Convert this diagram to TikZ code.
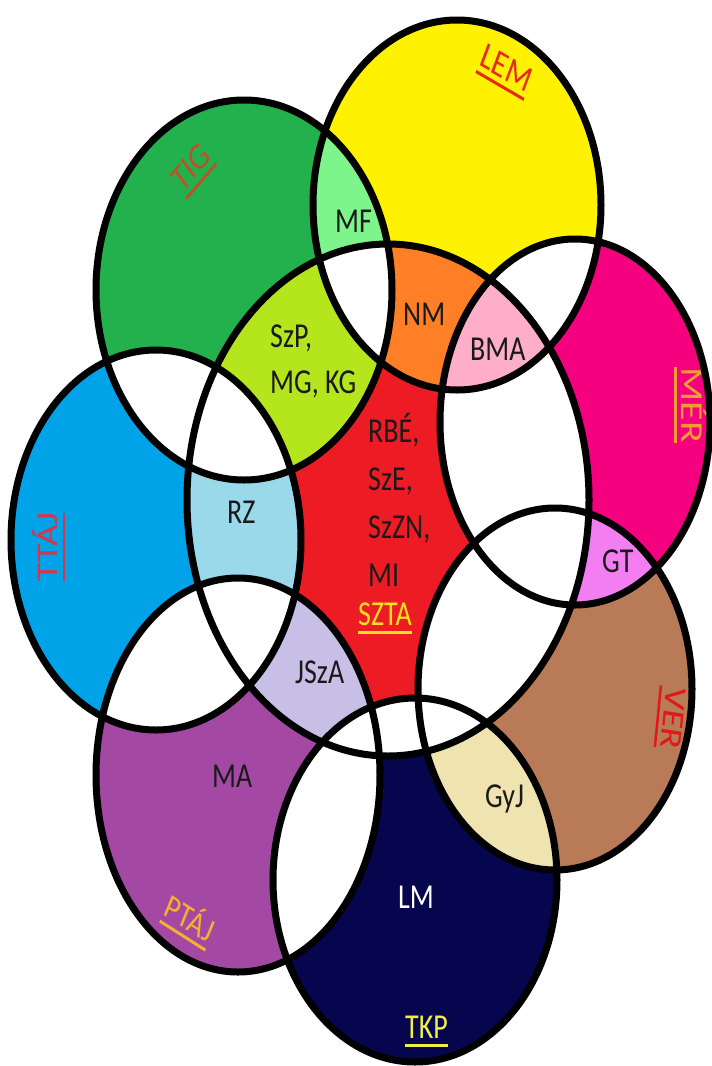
\documentclass[tikz,border=0pt]{standalone}
\usepackage{fontspec}
\setmainfont{Carlito}
\definecolor{cLEM}{HTML}{FFF200}
\definecolor{cTIG}{HTML}{22B14C}
\definecolor{cMER}{HTML}{F5007F}
\definecolor{cTTAJ}{HTML}{00A2E8}
\definecolor{cVER}{HTML}{B97A57}
\definecolor{cPTAJ}{HTML}{A349A4}
\definecolor{cTKP}{HTML}{06064F}
\definecolor{cSZTA}{HTML}{ED1C24}
\definecolor{cMF}{HTML}{7DF58A}
\definecolor{cLime}{HTML}{B5E61D}
\definecolor{cNM}{HTML}{FF7F27}
\definecolor{cBMA}{HTML}{FFAEC9}
\definecolor{cRZ}{HTML}{99D9EA}
\definecolor{cJSzA}{HTML}{C8BFE7}
\definecolor{cGT}{HTML}{F27EF2}
\definecolor{cGyJ}{HTML}{EFE4B0}
\definecolor{tBlack}{HTML}{1A1A1A}
\definecolor{tLEM}{HTML}{E8281E}
\definecolor{tTIG}{HTML}{C0502A}
\definecolor{tMER}{HTML}{F0A030}
\definecolor{tTTAJ}{HTML}{D8344A}
\definecolor{tVER}{HTML}{E01818}
\definecolor{tPTAJ}{HTML}{F5B030}
\definecolor{tTKP}{HTML}{F0F040}
\definecolor{tSZTA}{HTML}{FFE020}
\def\pLEM{(457,205) ellipse [x radius=144, y radius=185]}
\def\pTIG{(244,290) ellipse [x radius=148, y radius=190]}
\def\pMER{(575,422) ellipse [x radius=135, y radius=183]}
\def\pTTAJ{(156,540) ellipse [x radius=145, y radius=190]}
\def\pSZTA{(388,500) ellipse [x radius=201, y radius=256]}
\def\pVER{(555,689) ellipse [x radius=137, y radius=181]}
\def\pPTAJ{(238,775) ellipse [x radius=142, y radius=197]}
\def\pTKP{(415,880) ellipse [x radius=142, y radius=182]}
\newcommand\uline[1]{\leavevmode\vtop{\hbox{#1}\kern4.5pt\hrule height 2.5pt}}
\tikzset{
  outline/.style={draw=black, line width=7pt},
  lab/.style={transform shape, inner sep=0pt, font=\fontsize{28}{34}\selectfont, text=tBlack},
}
\newcommand\lbl[6]{%
  \begin{scope}[shift={(#1,#2)}, yscale=1.25]
    \node[lab, rotate=#3, #4] (#5) at (0,0) {#6};
  \end{scope}}
\begin{document}
\begin{tikzpicture}[x=1pt,y=-1pt]
\useasboundingbox (0,0) rectangle (712,1066);
\fill[white] (0,0) rectangle (712,1066);
% single sets
\fill[cLEM] \pLEM;
\fill[cTIG] \pTIG;
\fill[cMER] \pMER;
\fill[cTTAJ] \pTTAJ;
\fill[cSZTA] \pSZTA;
\fill[cVER] \pVER;
\fill[cPTAJ] \pPTAJ;
\fill[cTKP] \pTKP;
% coloured intersections
\begin{scope}\clip \pTIG; \fill[cMF] \pLEM; \fill[cLime] \pSZTA; \end{scope}
\begin{scope}\clip \pLEM; \fill[cNM] \pSZTA; \end{scope}
\begin{scope}\clip \pTTAJ; \fill[cRZ] \pSZTA; \end{scope}
\begin{scope}\clip \pPTAJ; \fill[cJSzA] \pSZTA; \end{scope}
\begin{scope}\clip \pMER; \fill[cGT] \pVER; \end{scope}
\begin{scope}\clip \pVER; \fill[cGyJ] \pTKP; \end{scope}
% white intersections
\begin{scope}\clip \pTIG; \fill[white] \pTTAJ; \end{scope}
\begin{scope}\clip \pTIG; \clip \pLEM; \fill[white] \pSZTA; \end{scope}
\begin{scope}\clip \pLEM; \fill[white] \pMER; \end{scope}
\begin{scope}\clip \pSZTA; \fill[white] \pMER; \fill[white] \pVER; \fill[white] \pTKP; \end{scope}
\begin{scope}\clip \pTTAJ; \fill[white] \pPTAJ; \end{scope}
\begin{scope}\clip \pPTAJ; \fill[white] \pTKP; \end{scope}
\begin{scope}\clip \pLEM; \clip \pSZTA; \fill[cBMA] \pMER; \end{scope}
% labels
\lbl{335}{232}{0}{anchor=base west}{mf}{MF}
\lbl{403}{325}{0}{anchor=base west}{nm}{NM}
\lbl{470}{360}{0}{anchor=base west}{bma}{BMA}
\lbl{270}{347}{0}{anchor=base west}{szp}{SzP,}
\lbl{270}{393}{0}{anchor=base west}{mgkg}{MG, KG}
\lbl{368}{442}{0}{anchor=base west}{rbe}{RBÉ,}
\lbl{368}{490}{0}{anchor=base west}{sze}{SzE,}
\lbl{368}{538}{0}{anchor=base west}{szzn}{SzZN,}
\lbl{368}{586}{0}{anchor=base west}{mi}{MI}
\lbl{358}{625}{0}{anchor=base west, text=tSZTA}{szta}{\uline{SZTA}}
\lbl{227}{523}{0}{anchor=base west}{rz}{RZ}
\lbl{295}{683}{0}{anchor=base west}{jsza}{JSzA}
\lbl{602}{572}{0}{anchor=base west}{gt}{GT}
\lbl{485}{807}{0}{anchor=base west}{gyj}{GyJ}
\lbl{212}{787}{0}{anchor=base west}{ma}{MA}
\lbl{398}{908}{0}{anchor=base west, text=white}{lm}{LM}
\lbl{405}{1038}{0}{anchor=base west, text=tTKP}{tkp}{\uline{TKP}}
\lbl{505}{72}{-25}{text=tLEM, font=\fontsize{30}{34}\selectfont}{lem}{\uline{LEM}}
\lbl{193}{170}{43}{text=tTIG, font=\fontsize{30}{34}\selectfont}{tig}{\uline{TIG}}
\lbl{691}{405}{-90}{text=tMER, font=\fontsize{32}{36}\selectfont}{mer}{\uline{MÉR}}
\lbl{49}{547}{90}{text=tTTAJ, font=\fontsize{30}{34}\selectfont}{ttaj}{\uline{TTÁJ}}
\lbl{670}{718}{-97}{text=tVER, font=\fontsize{31}{34}\selectfont}{ver}{\uline{VER}}
\lbl{189}{920}{-27}{text=tPTAJ}{ptaj}{\uline{PTÁJ}}
% outlines
\draw[outline] \pLEM;
\draw[outline] \pTIG;
\draw[outline] \pMER;
\draw[outline] \pTTAJ;
\draw[outline] \pSZTA;
\draw[outline] \pVER;
\draw[outline] \pPTAJ;
\draw[outline] \pTKP;
\end{tikzpicture}
\end{document}
